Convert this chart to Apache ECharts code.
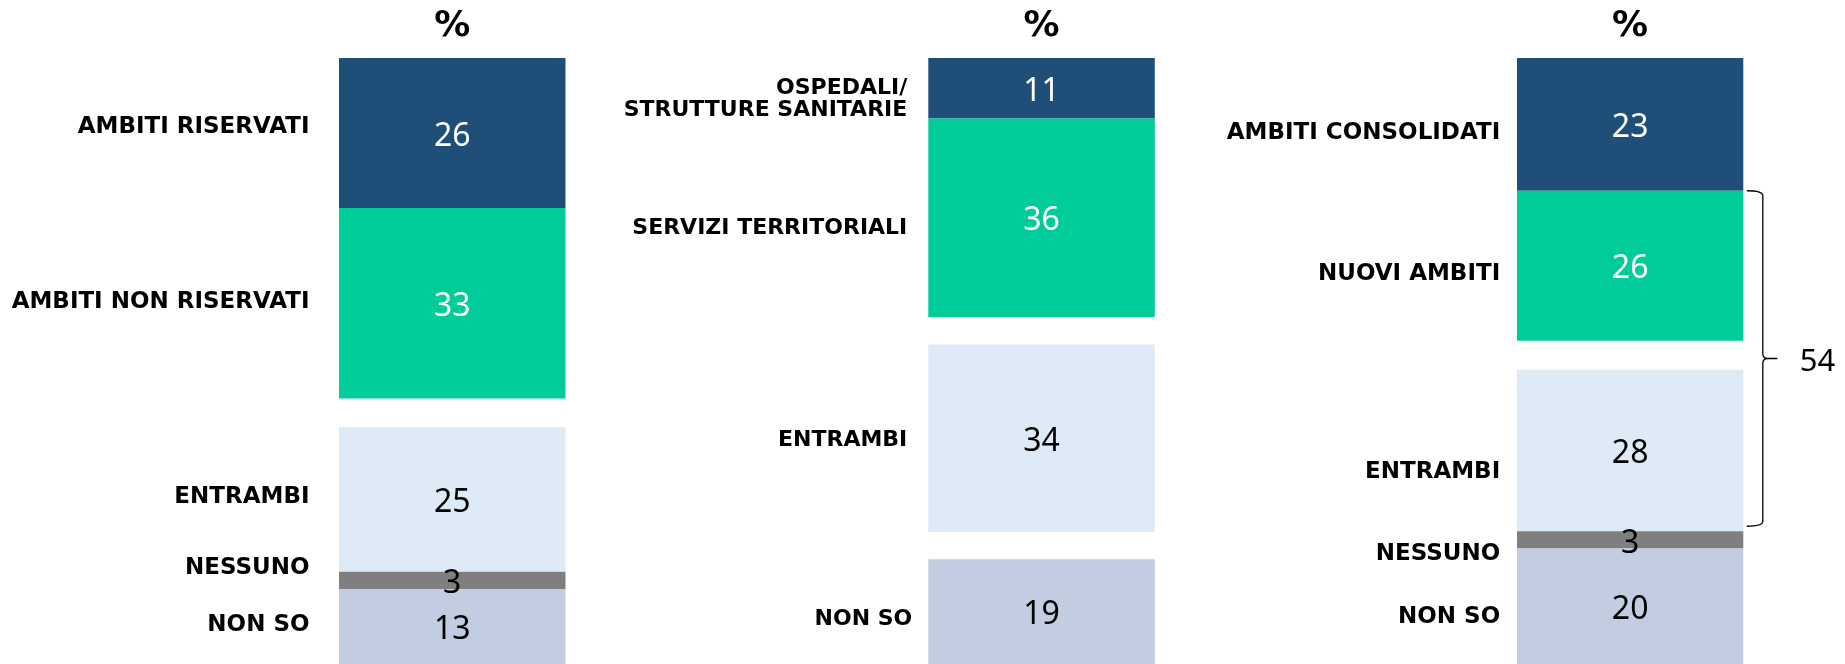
<!DOCTYPE html>
<html><head><meta charset="utf-8">
<script src="https://cdn.jsdelivr.net/npm/echarts@6/dist/echarts.min.js"></script>
<style>html,body{margin:0;padding:0;background:#fff}#c{width:1845px;height:664px}</style>
</head><body><div id="c"></div>
<script>
// ---------------- DATA ----------------
const unitLabel = '%';
const panel1Categories = ['AMBITI RISERVATI', 'AMBITI NON RISERVATI', 'ENTRAMBI', 'NESSUNO', 'NON SO'];
const panel1Values = [26, 33, 25, 3, 13];
const panel2Categories = ['OSPEDALI/\nSTRUTTURE SANITARIE', 'SERVIZI TERRITORIALI', 'ENTRAMBI', 'NON SO'];
const panel2Values = [11, 36, 34, 19];
const panel3Categories = ['AMBITI CONSOLIDATI', 'NUOVI AMBITI', 'ENTRAMBI', 'NESSUNO', 'NON SO'];
const panel3Values = [23, 26, 28, 3, 20];
const bracketFrom = 'NUOVI AMBITI';   // panel 3
const bracketTo = 'ENTRAMBI';
const bracketValue = 54;

// ---------------- STYLE / LAYOUT ----------------
const COLORS = { dark: '#1F4E79', green: '#00CC99', light: '#DEEAF6', gray: '#7F7F7F', slate: '#C2CDE1' };
const LABEL_FONT = '"DejaVu Sans", Verdana, sans-serif';
const VALUE_FONT = '"Noto Sans", "Open Sans", sans-serif';
const GAP = 5;              // blank spacing (in axis units) between blocks
const GRID_TOP = 58, GRID_H = 608;
const LABEL_SHIFT = 3.5;    // global vertical nudge for category labels

const panels = [
  { cats: panel1Categories, vals: panel1Values, roles: ['dark','green','light','gray','slate'], gapsAfter: [1],
    left: 339, width: 226.5, labelGap: 29.5, fontSize: 23,
    dx: [0, 0, 0, 0, 0], dy: [-9.5, -4.6, -6, -15.5, -5] },
  { cats: panel2Categories, vals: panel2Values, roles: ['dark','green','light','slate'], gapsAfter: [1, 2],
    left: 928.3, width: 226.5, labelGap: 21, fontSize: 22,
    dx: [0, 0, 0, 5], dy: [7.2, 7, -1.6, 4.5] },
  { cats: panel3Categories, vals: panel3Values, roles: ['dark','green','light','gray','slate'], gapsAfter: [1],
    left: 1517, width: 226.3, labelGap: 16.8, fontSize: 23,
    dx: [0, 0, 0, 0, 0], dy: [5.5, 5, 18, 11, 7.7] }
];

// ---------------- BUILD ----------------
const grids = [], xAxes = [], yAxes = [], series = [];
const segStarts = []; // per panel: start of each segment on the axis

panels.forEach((p, pi) => {
  grids.push({ left: p.left, top: GRID_TOP, width: p.width, height: GRID_H, containLabel: false });
  xAxes.push({
    gridIndex: pi, type: 'category', data: [unitLabel], position: 'top',
    axisLine: { show: false }, axisTick: { show: false }, splitLine: { show: false },
    axisLabel: { margin: 13, color: '#000', fontFamily: LABEL_FONT, fontWeight: 'bold', fontSize: 36 }
  });
  const total = p.vals.reduce((a, b) => a + b, 0) + GAP * p.gapsAfter.length;
  yAxes.push({ gridIndex: pi, type: 'value', inverse: true, min: 0, max: total, show: false, splitLine: { show: false } });

  let cum = 0;
  const starts = [];
  p.vals.forEach((v, i) => {
    starts.push(cum);
    const role = p.roles[i];
    const darkBg = role === 'dark' || role === 'green';
    series.push({
      type: 'bar', name: p.cats[i], xAxisIndex: pi, yAxisIndex: pi, stack: 'p' + pi,
      barWidth: '100%', data: [v], silent: true,
      itemStyle: { color: COLORS[role] },
      label: { show: true, position: 'inside', offset: [0, 3.5], formatter: '{c}', color: darkBg ? '#fff' : '#000',
               fontFamily: VALUE_FONT, fontSize: 32 }
    });
    cum += v;
    if (p.gapsAfter.includes(i)) {
      series.push({
        type: 'bar', xAxisIndex: pi, yAxisIndex: pi, stack: 'p' + pi, barWidth: '100%',
        data: [GAP], silent: true, itemStyle: { color: 'rgba(0,0,0,0)' }, label: { show: false }
      });
      cum += GAP;
    }
  });
  segStarts.push(starts);

  // category labels on the left of each bar
  series.push({
    type: 'custom', xAxisIndex: pi, yAxisIndex: pi, silent: true, clip: false,
    encode: { x: 0, y: [1, 2] },
    data: p.vals.map((v, i) => [0, starts[i], starts[i] + v, i]),
    renderItem: function (params, api) {
      const s = api.value(1), e = api.value(2), idx = api.value(3);
      const y = (api.coord([0, s])[1] + api.coord([0, e])[1]) / 2 + p.dy[idx] + LABEL_SHIFT;
      const x = params.coordSys.x - p.labelGap + p.dx[idx];
      return {
        type: 'text',
        style: { x: x, y: y, text: p.cats[idx], fill: '#000', align: 'right', verticalAlign: 'middle',
                 fontFamily: LABEL_FONT, fontWeight: 'bold', fontSize: p.fontSize, lineHeight: 22 }
      };
    }
  });
});

// bracket on panel 3
(function () {
  const pi = 2, p = panels[pi];
  const iFrom = p.cats.indexOf(bracketFrom), iTo = p.cats.indexOf(bracketTo);
  const start = segStarts[pi][iFrom], end = segStarts[pi][iTo] + p.vals[iTo];
  series.push({
    type: 'custom', xAxisIndex: pi, yAxisIndex: pi, silent: true, clip: false,
    encode: { x: 0, y: [1, 2] },
    data: [[0, start, end, bracketValue]],
    renderItem: function (params, api) {
      const cs = params.coordSys;
      const top = api.coord([0, api.value(1)])[1];
      const bot = api.coord([0, api.value(2)])[1] - 5;
      const mid = (top + bot) / 2;
      const x0 = cs.x + cs.width + 3.5, xv = x0 + 16, xt = xv + 14.5, r = 5;
      const d = 'M' + x0 + ' ' + top +
        ' Q' + xv + ' ' + top + ' ' + xv + ' ' + (top + r) +
        ' L' + xv + ' ' + (mid - r) +
        ' Q' + xv + ' ' + mid + ' ' + (xv + r) + ' ' + mid +
        ' L' + xt + ' ' + mid +
        ' M' + (xv + r) + ' ' + mid +
        ' Q' + xv + ' ' + mid + ' ' + xv + ' ' + (mid + r) +
        ' L' + xv + ' ' + (bot - r) +
        ' Q' + xv + ' ' + bot + ' ' + x0 + ' ' + bot;
      return {
        type: 'group',
        children: [
          { type: 'path', shape: { pathData: d }, style: { fill: 'none', stroke: '#000', lineWidth: 1.3 } },
          { type: 'text', style: { x: xt + 22.5, y: mid + 3.5, text: String(api.value(3)), fill: '#000',
              align: 'left', verticalAlign: 'middle', fontFamily: VALUE_FONT, fontSize: 31 } }
        ]
      };
    }
  });
})();

const chart = echarts.init(document.getElementById('c'), null, { renderer: 'canvas' });
chart.setOption({
  animation: false,
  backgroundColor: '#ffffff',
  grid: grids, xAxis: xAxes, yAxis: yAxes, series: series
});
</script></body></html>
